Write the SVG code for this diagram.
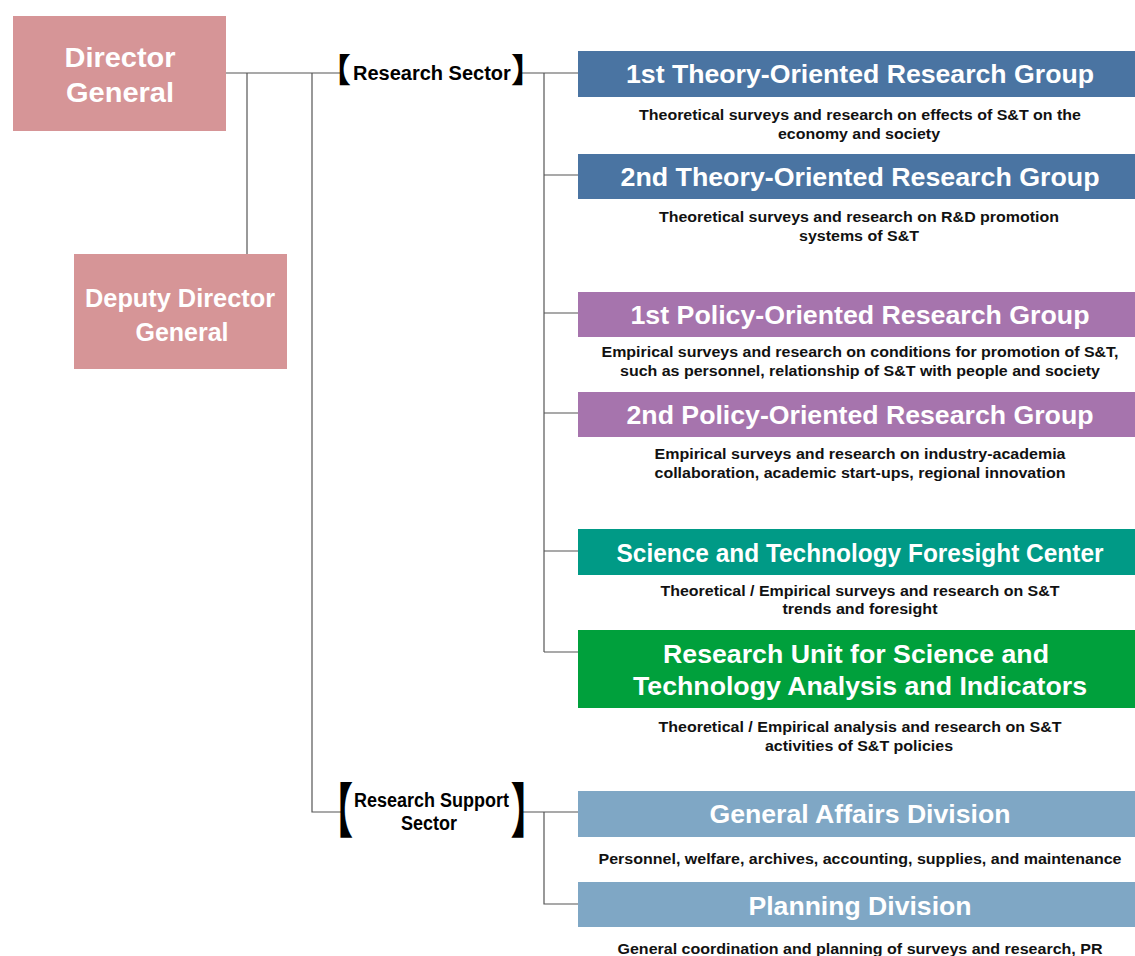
<svg xmlns="http://www.w3.org/2000/svg" width="1135" height="956" viewBox="0 0 1135 956">
<style>
.bg{fill:#ffffff}
.line{stroke:#555;stroke-width:1.2;fill:none}
.exec{fill:#d69597}
.theory{fill:#4a74a2}
.policy{fill:#a674ad}
.foresight{fill:#009a86}
.unit{fill:#00a03c}
.support{fill:#7fa7c5}
.ht{font-family:"Liberation Sans",Arial,sans-serif;font-weight:bold;fill:#fff;text-anchor:middle;font-size:25px}
.et{font-family:"Liberation Sans",Arial,sans-serif;font-weight:bold;fill:#fff;text-anchor:middle}
.dt{font-family:"Liberation Sans",Arial,sans-serif;font-weight:bold;fill:#111;text-anchor:middle;font-size:14.5px}
.st{font-family:"Liberation Sans",Arial,sans-serif;font-weight:bold;fill:#000;font-size:20px}
.br{font-family:"Noto Sans CJK JP","Noto Sans CJK SC",sans-serif;font-weight:bold;fill:#000}
</style>
<rect class="bg" x="0" y="0" width="1135" height="956"/>

<g id="connectors">
<path class="line" d="M226,73 H340"/>
<path class="line" d="M247,73 V254"/>
<path class="line" d="M312,73 V812 H341"/>
<path class="line" d="M521,73 H578"/>
<path class="line" d="M544,73 V652"/>
<path class="line" d="M544,175 H578"/>
<path class="line" d="M544,313 H578"/>
<path class="line" d="M544,413 H578"/>
<path class="line" d="M544,551 H578"/>
<path class="line" d="M544,652 H578"/>
<path class="line" d="M522,812 H578"/>
<path class="line" d="M544,812 V904 H578"/>
</g>

<g id="director-general">
<rect class="exec" x="13" y="16" width="213" height="115"/>
<text class="et" x="120" y="67" font-size="28" textLength="111" lengthAdjust="spacingAndGlyphs">Director</text>
<text class="et" x="120" y="102" font-size="28" textLength="108" lengthAdjust="spacingAndGlyphs">General</text>
</g>

<g id="deputy-director-general">
<rect class="exec" x="74" y="254" width="213" height="115"/>
<text class="et" x="180" y="307" font-size="26" textLength="190" lengthAdjust="spacingAndGlyphs">Deputy Director</text>
<text class="et" x="182" y="341" font-size="26" textLength="93" lengthAdjust="spacingAndGlyphs">General</text>
</g>

<g id="research-sector">
<text class="st"><tspan class="br" font-size="33" x="318" y="82">【</tspan><tspan x="353" y="80">Research Sector</tspan><tspan class="br" font-size="33" x="511" y="82">】</tspan></text>
</g>

<g id="research-support-sector">
<text class="br" font-size="59" transform="translate(341,0) scale(0.64,1)" x="-40" y="832">【</text>
<text class="st"><tspan x="354" y="807" textLength="155" lengthAdjust="spacingAndGlyphs">Research Support</tspan><tspan x="401" y="830" textLength="56" lengthAdjust="spacingAndGlyphs">Sector</tspan><tspan class="br" font-size="59" x="510.5" y="832" textLength="38" lengthAdjust="spacingAndGlyphs">】</tspan></text>
</g>

<g id="theory1">
<rect class="theory" x="578" y="51" width="557" height="46"/>
<text class="ht" x="860" y="83" textLength="468" lengthAdjust="spacingAndGlyphs">1st Theory-Oriented Research Group</text>
<text class="dt" x="860" y="120" textLength="442" lengthAdjust="spacingAndGlyphs">Theoretical surveys and research on effects of S&amp;T on the</text>
<text class="dt" x="859" y="139" textLength="162" lengthAdjust="spacingAndGlyphs">economy and society</text>
</g>

<g id="theory2">
<rect class="theory" x="578" y="154" width="557" height="45"/>
<text class="ht" x="860" y="186" textLength="479" lengthAdjust="spacingAndGlyphs">2nd Theory-Oriented Research Group</text>
<text class="dt" x="859" y="222" textLength="400" lengthAdjust="spacingAndGlyphs">Theoretical surveys and research on R&amp;D promotion</text>
<text class="dt" x="859" y="241" textLength="120" lengthAdjust="spacingAndGlyphs">systems of S&amp;T</text>
</g>

<g id="policy1">
<rect class="policy" x="578" y="292" width="557" height="45"/>
<text class="ht" x="860" y="324" textLength="459" lengthAdjust="spacingAndGlyphs">1st Policy-Oriented Research Group</text>
<text class="dt" x="860" y="357" textLength="517" lengthAdjust="spacingAndGlyphs">Empirical surveys and research on conditions for promotion of S&amp;T,</text>
<text class="dt" x="860" y="376" textLength="480" lengthAdjust="spacingAndGlyphs">such as personnel, relationship of S&amp;T with people and society</text>
</g>

<g id="policy2">
<rect class="policy" x="578" y="392" width="557" height="45"/>
<text class="ht" x="860" y="424" textLength="467" lengthAdjust="spacingAndGlyphs">2nd Policy-Oriented Research Group</text>
<text class="dt" x="860" y="459" textLength="411" lengthAdjust="spacingAndGlyphs">Empirical surveys and research on industry-academia</text>
<text class="dt" x="860" y="478" textLength="411" lengthAdjust="spacingAndGlyphs">collaboration, academic start-ups, regional innovation</text>
</g>

<g id="foresight">
<rect class="foresight" x="578" y="529" width="557" height="46"/>
<text class="ht" x="860" y="562" textLength="487" lengthAdjust="spacingAndGlyphs">Science and Technology Foresight Center</text>
<text class="dt" x="860" y="596" textLength="399" lengthAdjust="spacingAndGlyphs">Theoretical / Empirical surveys and research on S&amp;T</text>
<text class="dt" x="860" y="614" textLength="155" lengthAdjust="spacingAndGlyphs">trends and foresight</text>
</g>

<g id="research-unit">
<rect class="unit" x="578" y="630" width="557" height="78"/>
<text class="ht" x="856" y="663" textLength="386" lengthAdjust="spacingAndGlyphs">Research Unit for Science and</text>
<text class="ht" x="860" y="695" textLength="454" lengthAdjust="spacingAndGlyphs">Technology Analysis and Indicators</text>
<text class="dt" x="860" y="732" textLength="403" lengthAdjust="spacingAndGlyphs">Theoretical / Empirical analysis and research on S&amp;T</text>
<text class="dt" x="859" y="751" textLength="188" lengthAdjust="spacingAndGlyphs">activities of S&amp;T policies</text>
</g>

<g id="general-affairs">
<rect class="support" x="578" y="791" width="557" height="46"/>
<text class="ht" x="860" y="823" textLength="301" lengthAdjust="spacingAndGlyphs">General Affairs Division</text>
<text class="dt" x="860" y="864" textLength="523" lengthAdjust="spacingAndGlyphs">Personnel, welfare, archives, accounting, supplies, and maintenance</text>
</g>

<g id="planning">
<rect class="support" x="578" y="882" width="557" height="45"/>
<text class="ht" x="860" y="915" textLength="223" lengthAdjust="spacingAndGlyphs">Planning Division</text>
<text class="dt" x="860" y="954" textLength="485" lengthAdjust="spacingAndGlyphs">General coordination and planning of surveys and research, PR</text>
</g>
</svg>
